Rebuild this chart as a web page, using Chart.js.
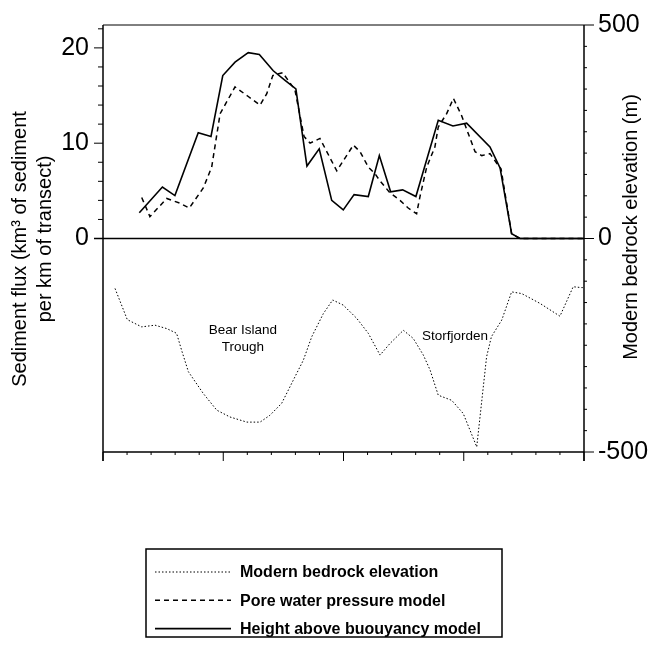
<!DOCTYPE html>
<html lang="en">
<head>
    <meta charset="UTF-8">
    <title>Sediment flux and bedrock elevation</title>
    <script src="https://cdn.jsdelivr.net/npm/chart.js"></script>
    <style>
        body { margin: 0; background: #fff; }
    </style>
</head>
<body>
    <canvas id="fluxChart" width="652" height="645"></canvas>

    <script>
        // distance along transect (x) and values
        const heightX = [1.51, 2.47, 2.99, 3.96, 4.49, 4.98, 5.49, 6.04, 6.50, 7.08, 7.57, 8.02, 8.48, 8.99, 9.51, 9.99, 10.44, 11.03, 11.49, 11.96, 12.46, 13.01, 13.94, 14.55, 15.12, 16.09, 16.51, 16.99, 17.34, 20];
        const heightY = [2.7, 5.4, 4.5, 11.1, 10.7, 17.1, 18.5, 19.5, 19.3, 17.6, 16.6, 15.7, 7.6, 9.4, 4.0, 3.0, 4.6, 4.4, 8.7, 4.9, 5.1, 4.4, 12.4, 11.8, 12.1, 9.6, 7.4, 0.5, 0, 0];

        const poreX = [1.61, 1.95, 2.65, 3.20, 3.59, 4.17, 4.52, 4.87, 5.49, 6.04, 6.53, 6.81, 7.06, 7.47, 7.98, 8.36, 8.61, 9.02, 9.72, 10.41, 10.69, 11.03, 11.31, 11.50, 11.93, 12.35, 12.69, 13.04, 13.18, 13.46, 13.80, 13.94, 14.29, 14.57, 14.91, 15.19, 15.47, 15.75, 16.09, 16.37, 16.55, 16.99, 17.34, 20];
        const poreY = [4.3, 2.3, 4.2, 3.7, 3.2, 5.3, 7.5, 13.1, 15.9, 14.9, 14.0, 15.2, 17.1, 17.4, 15.6, 10.7, 10.0, 10.5, 7.1, 9.8, 9.1, 7.5, 6.8, 6.1, 4.8, 4.0, 3.2, 2.6, 4.4, 7.5, 9.6, 11.7, 13.1, 14.7, 12.9, 11.0, 9.1, 8.7, 8.9, 7.9, 7.3, 0.5, 0, 0];

        const bedX = [0.50, 1.01, 1.61, 2.16, 2.65, 3.06, 3.27, 3.55, 4.17, 4.73, 5.28, 5.98, 6.53, 6.94, 7.43, 7.91, 8.33, 8.68, 9.16, 9.55, 9.99, 10.55, 11.03, 11.52, 11.93, 12.49, 12.90, 13.32, 13.60, 13.94, 14.50, 14.98, 15.54, 15.95, 16.15, 16.58, 16.99, 17.41, 18.17, 19.00, 19.55, 19.90, 20];
        const bedY = [-117, -190, -207, -203, -211, -222, -262, -312, -363, -402, -418, -430, -430, -414, -386, -332, -285, -230, -176, -144, -156, -187, -222, -273, -246, -215, -234, -273, -308, -367, -379, -410, -488, -277, -230, -191, -125, -129, -152, -182, -113, -115, -115];

        const fluxTicks = [0, 10, 20];
        const bedTicks = [-500, 0, 500];

        const noteText = ['Bear Island', 'Trough', 'Storfjorden'];
        const noteX = [5.82, 5.82, 14.64];
        const noteY = [-215, -254, -230];

        const seriesNames = ['Modern bedrock elevation', 'Pore water pressure model', 'Height above buouyancy model'];

        const FONT = '"Liberation Sans", Arial, Helvetica, sans-serif';

        function toPoints(xs, ys) {
            return xs.map((x, i) => ({ x: x, y: ys[i] }));
        }

        // frame, ticks, titles, notes and legend
        const decorations = {
            id: 'decorations',
            afterDatasetsDraw(chart) {
                const ctx = chart.ctx;
                const { left, right, top, bottom } = chart.chartArea;
                const sx = chart.scales.x, sy = chart.scales.y, sy2 = chart.scales.y2;
                ctx.save();
                ctx.strokeStyle = '#000';
                ctx.fillStyle = '#000';
                ctx.setLineDash([]);

                function seg(x1, y1, x2, y2, w) {
                    ctx.lineWidth = w;
                    ctx.beginPath();
                    ctx.moveTo(x1, y1);
                    ctx.lineTo(x2, y2);
                    ctx.stroke();
                }

                seg(left, top, right, top, 1);
                seg(left, bottom, right, bottom, 1.5);
                seg(left, top, left, bottom + 9, 1.5);
                seg(right, top, right, bottom + 9, 1.5);

                const zy = sy.getPixelForValue(0);
                seg(left - 9, zy, right, zy, 1.5);

                for (let v = 0; v <= 22; v += 2) {
                    const py = sy.getPixelForValue(v);
                    seg(left - (v % 10 === 0 ? 9 : 5), py, left, py, 1);
                }
                for (let v = -500; v <= 500; v += 50) {
                    const py = sy2.getPixelForValue(v);
                    seg(right, py, right + (v % 500 === 0 ? 10 : 3), py, 1);
                }
                for (let v = 0; v <= 20; v += 1) {
                    const px = sx.getPixelForValue(v);
                    seg(px, bottom, px, bottom + (v % 5 === 0 ? 9 : 3), 1);
                }

                // axis titles
                ctx.font = '20px ' + FONT;
                ctx.textAlign = 'center';
                ctx.textBaseline = 'middle';
                ctx.save();
                ctx.translate(20, 249);
                ctx.rotate(-Math.PI / 2);
                ctx.fillText('Sediment flux (km\u00B3 of sediment', 0, 0);
                ctx.restore();
                ctx.save();
                ctx.translate(45, 239);
                ctx.rotate(-Math.PI / 2);
                ctx.fillText('per km of transect)', 0, 0);
                ctx.restore();
                ctx.save();
                ctx.translate(631, 227);
                ctx.rotate(-Math.PI / 2);
                ctx.fillText('Modern bedrock elevation (m)', 0, 0);
                ctx.restore();

                // place names
                ctx.font = '13.5px ' + FONT;
                noteText.forEach((t, i) => {
                    ctx.fillText(t, sx.getPixelForValue(noteX[i]), sy2.getPixelForValue(noteY[i]));
                });

                // legend
                const bx = 146, by = 549, bw = 356, bh = 88;
                ctx.lineWidth = 1.5;
                ctx.strokeRect(bx, by, bw, bh);
                ctx.font = 'bold 16px ' + FONT;
                ctx.textAlign = 'left';
                chart.data.datasets.forEach((ds, i) => {
                    const ly = 572 + i * 28.3;
                    ctx.setLineDash(ds.borderDash || []);
                    seg(155, ly, 231, ly, ds.borderWidth);
                    ctx.setLineDash([]);
                    ctx.fillText(seriesNames[i], 240, ly + 1);
                });
                ctx.restore();
            }
        };

        function fixWidth(w) {
            return s => {
                s.width = w;
                s.paddingTop = 0;
                s.paddingBottom = 0;
            };
        }

        const ctx = document.getElementById('fluxChart').getContext('2d');
        const fluxChart = new Chart(ctx, {
            type: 'line',
            data: {
                datasets: [{
                    label: seriesNames[0],
                    data: toPoints(bedX, bedY),
                    yAxisID: 'y2',
                    borderColor: '#000',
                    borderWidth: 1,
                    borderDash: [1.5, 2],
                    pointRadius: 0,
                    tension: 0
                }, {
                    label: seriesNames[1],
                    data: toPoints(poreX, poreY),
                    yAxisID: 'y',
                    borderColor: '#000',
                    borderWidth: 1.5,
                    borderDash: [5, 4],
                    pointRadius: 0,
                    tension: 0
                }, {
                    label: seriesNames[2],
                    data: toPoints(heightX, heightY),
                    yAxisID: 'y',
                    borderColor: '#000',
                    borderWidth: 1.6,
                    pointRadius: 0,
                    tension: 0
                }]
            },
            options: {
                responsive: false,
                animation: false,
                devicePixelRatio: 1,
                layout: { padding: { top: 25, left: 0, right: 0, bottom: 0 } },
                plugins: {
                    legend: { display: false },
                    tooltip: { enabled: false }
                },
                scales: {
                    x: {
                        type: 'linear',
                        min: 0,
                        max: 20,
                        grid: { display: false, drawTicks: false },
                        border: { display: false },
                        ticks: { display: false },
                        afterFit: s => { s.height = 193; }
                    },
                    y: {
                        position: 'left',
                        min: -22.4,
                        max: 22.4,
                        grid: { display: false, drawTicks: false },
                        border: { display: false },
                        afterBuildTicks: s => { s.ticks = fluxTicks.map(v => ({ value: v })); },
                        ticks: {
                            color: '#000',
                            padding: 14,
                            font: { family: FONT, size: 25 }
                        },
                        afterFit: fixWidth(103)
                    },
                    y2: {
                        position: 'right',
                        min: -500,
                        max: 500,
                        grid: { display: false, drawTicks: false },
                        border: { display: false },
                        afterBuildTicks: s => { s.ticks = bedTicks.map(v => ({ value: v })); },
                        ticks: {
                            color: '#000',
                            padding: 14,
                            font: { family: FONT, size: 25 }
                        },
                        afterFit: fixWidth(68)
                    }
                }
            },
            plugins: [decorations]
        });
    </script>
</body>
</html>
